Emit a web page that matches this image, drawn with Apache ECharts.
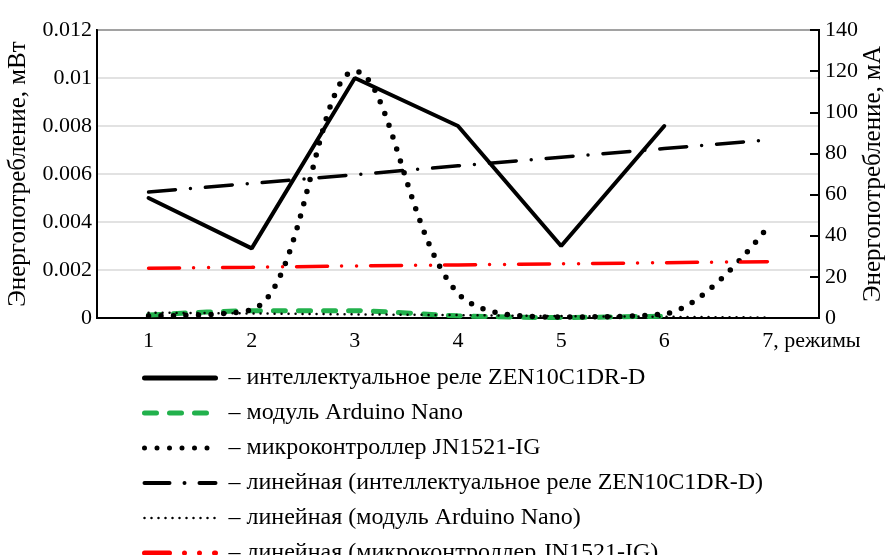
<!DOCTYPE html>
<html>
<head>
<meta charset="utf-8">
<script src="https://cdn.jsdelivr.net/npm/echarts@6/dist/echarts.min.js"></script>
<style>
html,body{margin:0;padding:0;background:#fff;overflow:hidden;}
#c{width:887px;height:555px;}
</style>
</head>
<body>
<div id="c"></div>
<script>
// ---- data ----
var categories = ['1', '2', '3', '4', '5', '6', '7'];
var lastLabelSuffix = ', режимы';
var seriesNames = [
  'интеллектуальное реле ZEN10C1DR-D',
  'модуль Arduino Nano',
  'микроконтроллер JN1521-IG',
  'линейная (интеллектуальное реле ZEN10C1DR-D)',
  'линейная (модуль Arduino Nano)',
  'линейная (микроконтроллер JN1521-IG)'
];
// mW (left axis)
var zenValues = [0.005, 0.0029, 0.010, 0.008, 0.003, 0.008, null];
var nanoValues = [0.00012, 0.0003, 0.0003, 0.00009, 0.00002, 0.00008, null];
// mA (right axis)
var jnValues = [1, 4, 120, 12, 0.5, 2, 44];
// trend lines
var zenTrend = [0.00525, 0.00561, 0.00597, 0.00634, 0.0067, 0.00706, 0.00742];
var nanoTrend = [0.00022, 0.00019, 0.00015, 0.00012, 0.00008, 0.00005, 0.00002];
var jnTrend = [24.2, 24.7, 25.3, 25.8, 26.3, 26.9, 27.4];
var leftAxisName = 'Энергопотребление, мВт';
var rightAxisName = 'Энергопотребление, мА';

// ---- styles ----
var FONT = '"Liberation Serif", "Times New Roman", serif';
var styles = [
  {color: '#000', width: 4, type: 'solid', cap: 'round'},
  {color: '#22b14c', width: 5, type: [12, 13], cap: 'round'},
  {color: '#000', width: 5.5, type: [0, 12.5], cap: 'round'},
  {color: '#000', width: 3.5, type: [27, 15, 0, 15], cap: 'round'},
  {color: '#000', width: 2.5, type: [0, 7], cap: 'round'},
  {color: '#ff0000', width: 3.5, type: [31, 14, 0, 15, 0, 14], cap: 'round'}
];
var legendStyles = [
  {color: '#000', width: 5, type: 'solid', cap: 'round'},
  {color: '#22b14c', width: 5, type: [12, 13], cap: 'round'},
  {color: '#000', width: 5, type: [0, 12.5], cap: 'round'},
  {color: '#000', width: 4, type: [25, 15, 0, 15], cap: 'round'},
  {color: '#000', width: 2.5, type: [0, 7], cap: 'round'},
  {color: '#ff0000', width: 5, type: [25, 15, 0, 15, 0, 15], cap: 'round'}
];

var chart = echarts.init(document.getElementById('c'), null, {renderer: 'canvas'});

var xData = categories.map(function (c, i) {
  if (i === categories.length - 1) {
    return {value: c, textStyle: {padding: [0, 0, 0, 88]}};
  }
  return c;
});

var seriesData = [zenValues, nanoValues, jnValues, zenTrend, nanoTrend, jnTrend];
var axisIdx = [0, 0, 1, 0, 0, 1];
var smoothVals = [false, 0.3, 0.35, false, false, false];
var zs = [5, 3, 4, 4, 4, 4];

var series = seriesNames.map(function (n, i) {
  return {
    name: n, type: 'line', yAxisIndex: axisIdx[i], data: seriesData[i],
    symbol: 'none', smooth: smoothVals[i], z: zs[i],
    lineStyle: styles[i],
    itemStyle: {color: styles[i].color}
  };
});

var option = {
  animation: false,
  backgroundColor: '#fff',
  textStyle: {fontFamily: FONT, color: '#000'},
  grid: {
    left: 97, right: 68, top: 30, bottom: 237,
    show: true, borderColor: '#000', borderWidth: 2, backgroundColor: 'transparent',
    containLabel: false,
    outerBoundsMode: 'none'
  },
  legend: {
    orient: 'vertical',
    left: 137,
    top: 361,
    height: 240,
    itemWidth: 71,
    itemHeight: 14,
    itemGap: 11,
    data: seriesNames.map(function (n, i) {
      return {name: n, lineStyle: legendStyles[i], itemStyle: {opacity: 0}};
    }),
    itemStyle: {opacity: 0},
    formatter: function (n) { return '– ' + n; },
    textStyle: {fontFamily: FONT, fontSize: 24, color: '#000', lineHeight: 24, padding: [0, 0, 0, 8]},
    selectedMode: false
  },
  xAxis: {
    type: 'category',
    data: xData,
    boundaryGap: true,
    axisLine: {lineStyle: {color: '#000', width: 2}},
    axisTick: {show: false},
    axisLabel: {
      interval: 0,
      color: '#000',
      fontFamily: FONT,
      fontSize: 22,
      margin: 12,
      formatter: function (v, i) {
        return i === categories.length - 1 ? v + lastLabelSuffix : v;
      }
    },
    splitLine: {show: false}
  },
  yAxis: [
    {
      type: 'value',
      min: 0, max: 0.012, interval: 0.002,
      name: leftAxisName,
      nameLocation: 'middle',
      nameRotate: 90,
      nameGap: 66,
      nameMoveOverlap: false,
      nameTextStyle: {fontFamily: FONT, fontSize: 25, color: '#000'},
      axisLine: {show: true, lineStyle: {color: '#000', width: 2}},
      axisTick: {show: false},
      axisLabel: {color: '#000', fontFamily: FONT, fontSize: 22, margin: 5},
      splitLine: {show: true, lineStyle: {color: '#d9d9d9', width: 1.5}}
    },
    {
      type: 'value',
      min: 0, max: 140, interval: 20,
      position: 'right',
      name: rightAxisName,
      nameLocation: 'middle',
      nameRotate: 90,
      nameGap: 42,
      nameMoveOverlap: false,
      nameTextStyle: {fontFamily: FONT, fontSize: 25, color: '#000'},
      axisLine: {show: true, lineStyle: {color: '#000', width: 2}},
      axisTick: {show: true, inside: true, length: 9, lineStyle: {color: '#000', width: 2}},
      axisLabel: {color: '#000', fontFamily: FONT, fontSize: 22, margin: 6},
      splitLine: {show: false}
    }
  ],
  series: series
};
chart.setOption(option);
</script>
</body>
</html>
